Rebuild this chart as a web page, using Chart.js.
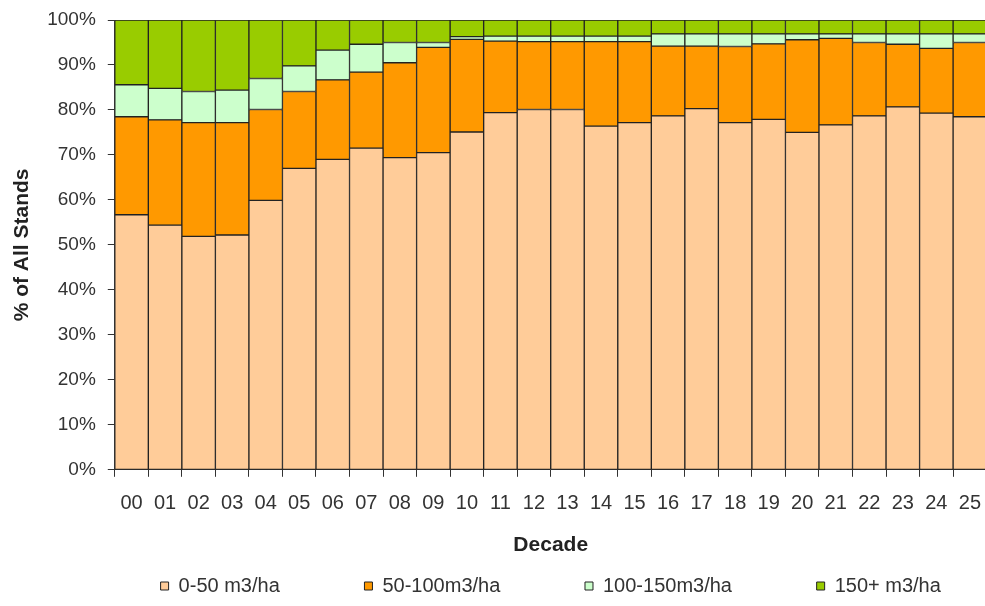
<!DOCTYPE html>
<html>
<head>
<meta charset="utf-8">
<script src="https://cdn.jsdelivr.net/npm/chart.js@4/dist/chart.umd.min.js"></script>
<style>
  html, body { margin: 0; padding: 0; background: #fff; overflow: hidden; }
  #wrap { position: relative; width: 996px; height: 606px; }
</style>
</head>
<body>
<div id="wrap"><canvas id="stands-chart"></canvas></div>
<script>
// Stand volume classes by decade (% of all stands)
const decades = ['00','01','02','03','04','05','06','07','08','09','10','11','12',
                 '13','14','15','16','17','18','19','20','21','22','23','24','25'];

const vol0to50 = [56.7, 54.4, 51.9, 52.2, 59.9, 67.0, 69.0, 71.5, 69.4, 70.5, 75.1, 79.4, 80.1,
                  80.1, 76.4, 77.2, 78.7, 80.3, 77.2, 77.9, 75.0, 76.7, 78.7, 80.7, 79.3, 78.5];
const vol50to100 = [21.8, 23.4, 25.3, 25.0, 20.2, 17.1, 17.7, 16.9, 21.1, 23.4, 20.6, 15.9, 15.1,
                    15.1, 18.8, 18.0, 15.5, 13.9, 16.9, 16.8, 20.6, 19.2, 16.3, 13.9, 14.4, 16.5];
const vol100to150 = [7.1, 7.0, 6.9, 7.2, 6.9, 5.7, 6.6, 6.2, 4.5, 1.1, 0.6, 1.1, 1.2,
                     1.2, 1.2, 1.2, 2.7, 2.7, 2.8, 2.2, 1.3, 1.0, 1.9, 2.3, 3.2, 1.9];
const vol150plus = [14.4, 15.2, 15.9, 15.6, 13.0, 10.2, 6.7, 5.4, 5.0, 5.0, 3.7, 3.6, 3.6,
                    3.6, 3.6, 3.6, 3.1, 3.1, 3.1, 3.1, 3.1, 3.1, 3.1, 3.1, 3.1, 3.1];

const seriesNames = ['0-50 m3/ha', '50-100m3/ha', '100-150m3/ha', '150+ m3/ha'];
const yTicks = [0, 10, 20, 30, 40, 50, 60, 70, 80, 90, 100];

const FONT = "'Liberation Sans', Arial, sans-serif";
const INK = '#333333';

function ds(label, data, color) {
    return {
        label,
        data,
        backgroundColor: color,
        borderColor: '#222222',
        borderWidth: 1,
        borderSkipped: false,
        barPercentage: 1.0,
        categoryPercentage: 1.0
    };
}

new Chart(document.getElementById('stands-chart'), {
    type: 'bar',
    data: {
        labels: decades,
        datasets: [
            ds(seriesNames[0], vol0to50, '#FFCC99'),
            ds(seriesNames[1], vol50to100, '#FF9900'),
            ds(seriesNames[2], vol100to150, '#CCFFCC'),
            ds(seriesNames[3], vol150plus, '#99CC00')
        ]
    },
    options: {
        responsive: true,
        maintainAspectRatio: false,
        animation: false,
        layout: { padding: { top: 20, right: 0, bottom: 0, left: 0 } },
        scales: {
            x: {
                stacked: true,
                grid: { drawOnChartArea: false, drawTicks: true, tickLength: 7, color: INK, offset: true },
                border: { color: INK, width: 1 },
                ticks: {
                    color: INK, padding: 15, maxRotation: 0, autoSkip: false,
                    font: { family: FONT, size: 20 }
                },
                title: {
                    display: true, text: 'Decade', color: '#222',
                    font: { family: FONT, size: 21, weight: 'bold' },
                    padding: { top: 2, bottom: 0 }
                }
            },
            y: {
                stacked: true,
                min: 0,
                max: 100,
                afterBuildTicks: axis => { axis.ticks = yTicks.map(v => ({ value: v })); },
                // the top label may stick out above the plot, as in the original
                afterFit: axis => { axis.paddingTop = 0; },
                grid: { drawOnChartArea: false, drawTicks: true, tickLength: 7, color: INK },
                border: { color: INK, width: 1 },
                ticks: {
                    color: INK, padding: 12,
                    font: { family: FONT, size: 19 },
                    callback: v => v + '%'
                },
                title: {
                    display: true, text: '% of All Stands', color: '#222',
                    font: { family: FONT, size: 21, weight: 'bold' },
                    padding: { top: 10, bottom: 0 }
                }
            }
        },
        plugins: {
            tooltip: { enabled: false },
            legend: {
                position: 'bottom',
                fullSize: false,
                labels: {
                    color: INK,
                    boxWidth: 8,
                    boxHeight: 8,
                    padding: 18,
                    font: { family: FONT, size: 20 },
                    generateLabels: chart => {
                        const items = Chart.defaults.plugins.legend.labels.generateLabels(chart);
                        // Excel spreads the legend entries out, pad the first three
                        items.forEach((it, i) => {
                            it.lineWidth = 1;
                            if (i < items.length - 1) it.text = it.text + '            ';
                        });
                        return items;
                    }
                }
            }
        }
    }
});
</script>
</body>
</html>
